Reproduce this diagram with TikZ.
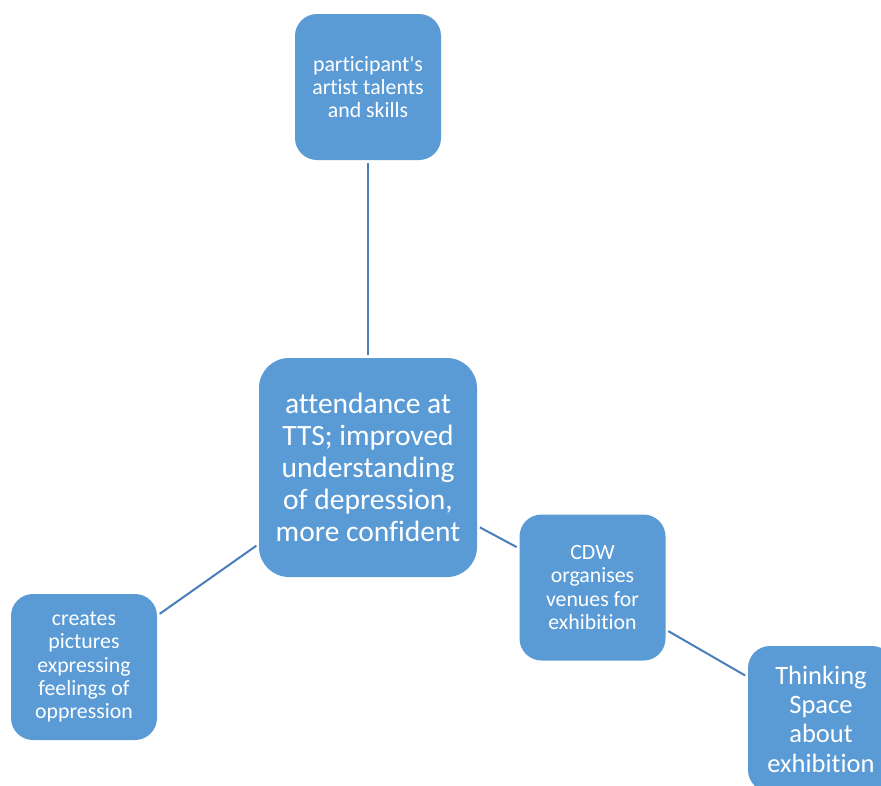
\documentclass[tikz,border=0pt]{standalone}
\usepackage{fontspec}
% plain Carlito: straight apostrophe, no common ligatures
\newfontfamily\cardfont{Carlito}[Ligatures=NoCommon]
\definecolor{boxfill}{HTML}{5B9BD5}
\definecolor{linkcol}{HTML}{4A7EBB}
\begin{document}
\begin{tikzpicture}[x=1pt,y=-1pt,
  card/.style={fill=boxfill, draw=none, rounded corners=22pt, text=white,
    align=center, inner sep=0pt, minimum width=146pt, minimum height=146pt},
  small/.style={font=\cardfont\fontsize{21.8}{23.2}\selectfont},
  link/.style={draw=linkcol, line width=2pt, shorten <=3pt, shorten >=3pt}]
\useasboundingbox (0,0) rectangle (881,785);
\begin{scope}
\clip (0,0) rectangle (881,785);
\node[card, small] (talents) at (368,87) {participant's\\artist talents\\and skills};
\node[card, minimum width=218pt, minimum height=219pt, rounded corners=30pt,
  font=\cardfont\fontsize{29.5}{32}\selectfont] (core) at (368,467.5)
  {attendance at\\TTS; improved\\understanding\\of depression,\\more confident};
\node[card, small] (cdw) at (592.5,587.5) {CDW\\organises\\venues for\\exhibition};
\node[card, small] (pictures) at (84,667) {creates\\pictures\\expressing\\feelings of\\oppression};
\node[card, minimum height=146pt, font=\cardfont\fontsize{26.5}{29.3}\selectfont] (space) at (821,719)
  {Thinking\\Space\\about\\exhibition};
\end{scope}
% spokes, centre to centre, stopping just short of each card
\draw[link] (talents) -- (core);
\draw[link] (pictures) -- (core);
\draw[link] (core) -- (cdw);
\draw[link] (cdw) -- (space);
\end{tikzpicture}
\end{document}
